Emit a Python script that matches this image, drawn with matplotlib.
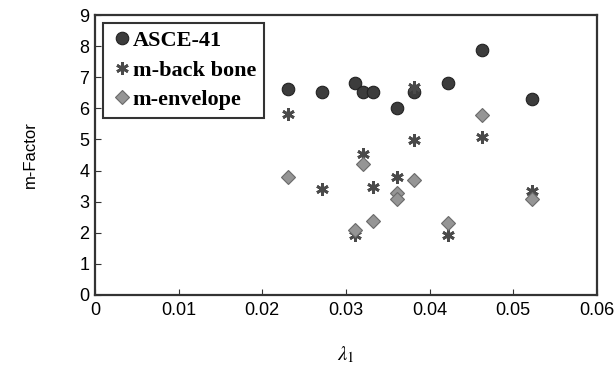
import matplotlib
matplotlib.use("Agg")
import matplotlib.pyplot as plt

# values
asce_x = [0.0231, 0.0272, 0.0311, 0.0321, 0.0332, 0.0361, 0.0382, 0.0422, 0.0463, 0.0523]
asce_y = [6.62, 6.53, 6.83, 6.53, 6.53, 6.0, 6.53, 6.83, 7.86, 6.31]

backbone_x = [0.0231, 0.0272, 0.0311, 0.0321, 0.0332, 0.0361, 0.0382, 0.0382, 0.0422, 0.0463, 0.0523]
backbone_y = [5.81, 3.40, 1.93, 4.53, 3.46, 3.78, 6.68, 4.98, 1.93, 5.09, 3.35]

envelope_x = [0.0231, 0.0311, 0.0321, 0.0332, 0.0361, 0.0361, 0.0382, 0.0422, 0.0463, 0.0523]
envelope_y = [3.78, 2.09, 4.21, 2.38, 3.27, 3.08, 3.70, 2.30, 5.79, 3.09]

x_ticks = [0, 0.01, 0.02, 0.03, 0.04, 0.05, 0.06]
x_tick_labels = ["0", "0.01", "0.02", "0.03", "0.04", "0.05", "0.06"]
y_ticks = list(range(10))

plt.rcParams["font.family"] = ["Liberation Sans", "DejaVu Sans"]
plt.rcParams["mathtext.fontset"] = "stix"

fig = plt.figure(figsize=(6.16, 3.66), dpi=100)
ax = fig.add_axes([0.154, 0.194, 0.815, 0.765])

ax.plot(asce_x, asce_y, linestyle="none", marker="o", markersize=9,
        markerfacecolor="#3c3c3c", markeredgecolor="#222222", markeredgewidth=0.8,
        label="ASCE-41", zorder=3)
ax.plot(backbone_x, backbone_y, linestyle="none", marker=(6, 2, 0), markersize=9,
        markeredgecolor="#4a4a4a", markeredgewidth=2.0, color="#4a4a4a",
        label="m-back bone", zorder=4)
ax.plot(envelope_x, envelope_y, linestyle="none", marker="D", markersize=7,
        markerfacecolor="#959595", markeredgecolor="#6a6a6a", markeredgewidth=0.8,
        label="m-envelope", zorder=5)

ax.set_xlim(0, 0.06)
ax.set_ylim(0, 9)
ax.set_xticks(x_ticks)
ax.set_xticklabels(x_tick_labels)
ax.set_yticks(y_ticks)
ax.tick_params(direction="in", labelsize=13, length=4, color="#333333")
ax.tick_params(axis="x", pad=5)
ax.tick_params(axis="y", pad=4)
for s in ax.spines.values():
    s.set_linewidth(1.6)
    s.set_color("#333333")

ax.set_ylabel("m-Factor", fontsize=12, labelpad=30)
ax.set_xlabel(r"$\lambda_1$", fontsize=15, labelpad=18)

leg = ax.legend(loc="upper left", prop={"family": "Liberation Serif", "weight": "bold", "size": 16},
                frameon=True, fancybox=False, edgecolor="black", handletextpad=0.0,
                handlelength=1.0, borderpad=0.35, labelspacing=0.4, borderaxespad=0.35)
leg.get_frame().set_linewidth(1.5)

fig.savefig("out.png", dpi=100, facecolor="white")
